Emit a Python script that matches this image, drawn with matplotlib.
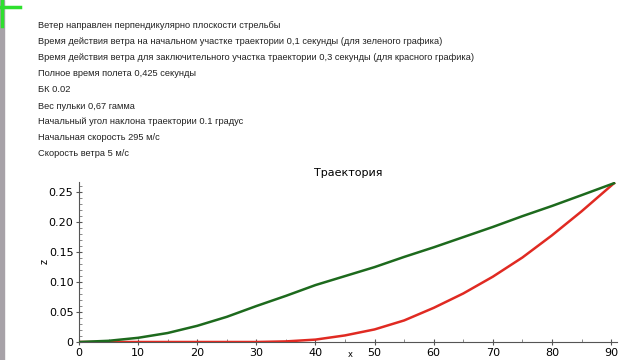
#!/usr/bin/env python3

import matplotlib
matplotlib.use('Agg')
import matplotlib.pyplot as plt
from matplotlib.ticker import MultipleLocator
from matplotlib.patches import Rectangle

# notes printed above the plot
notes = [
    'Ветер направлен перпендикулярно плоскости стрельбы',
    'Время действия ветра на начальном участке траектории 0,1 секунды (для зеленого графика)',
    'Время действия ветра для заключительного участка траектории 0,3 секунды (для красного графика)',
    'Полное время полета 0,425 секунды',
    'БК 0.02',
    'Вес пульки 0,67 гамма',
    'Начальный угол наклона траектории 0.1 градус',
    'Начальная скорость 295 м/с',
    'Скорость ветра 5 м/с',
]

x = [0, 5, 10, 15, 20, 25, 30, 35, 40, 45, 50, 55, 60, 65, 70, 75, 80, 85, 90.5]
z_green = [0, 0.002, 0.007, 0.015, 0.027, 0.042, 0.060, 0.077, 0.095, 0.110,
           0.125, 0.142, 0.158, 0.175, 0.192, 0.210, 0.227, 0.245, 0.265]
z_red = [0, 0, 0, 0, 0, 0, 0, 0.001, 0.004, 0.011,
         0.021, 0.036, 0.057, 0.081, 0.109, 0.141, 0.178, 0.218, 0.265]

fig = plt.figure(figsize=(6.4, 3.6), dpi=100)
fig.patch.set_facecolor('white')

# window decoration on the left edge
fig.patches.append(Rectangle((0, 0), 4 / 640, 1, transform=fig.transFigure,
                             color='#a7a2a8', zorder=0))
fig.add_artist(plt.Line2D([2 / 640, 2 / 640], [1, 1 - 26 / 360],
                          transform=fig.transFigure, color='#2ee02e', lw=2.5))
fig.add_artist(plt.Line2D([0, 20 / 640], [1 - 7 / 360, 1 - 7 / 360],
                          transform=fig.transFigure, color='#2ee02e', lw=2.5))

for i, line in enumerate(notes):
    fig.text(38 / 640, 1 - (26 + 16 * i) / 360, line, fontsize=6.65,
             family='Liberation Sans', color='#222222', va='center')

ax = fig.add_axes([79 / 640, 18 / 360, 538 / 640, 160 / 360])
ax.plot(x, z_red, color='#e02a22', lw=1.8, zorder=3)
ax.plot(x, z_green, color='#1d6a1d', lw=1.8, zorder=4)

ax.set_xlim(0, 91)
ax.set_ylim(0, 0.267)
ax.set_xticks(range(0, 91, 10))
ax.set_xticklabels([str(v) for v in range(0, 91, 10)])
ax.set_yticks([0, 0.05, 0.10, 0.15, 0.20, 0.25])
ax.set_yticklabels(['0', '0.05', '0.10', '0.15', '0.20', '0.25'])
ax.xaxis.set_minor_locator(MultipleLocator(5))
ax.yaxis.set_minor_locator(MultipleLocator(0.01))

for s in ['top', 'right']:
    ax.spines[s].set_visible(False)
for s in ['left', 'bottom']:
    ax.spines[s].set_color('#555555')
    ax.spines[s].set_linewidth(0.8)
ax.tick_params(which='major', direction='inout', length=4, width=0.8,
               color='#555555', labelsize=8, pad=2)
ax.tick_params(which='minor', direction='in', length=2, width=0.6, color='#777777')

ax.set_title('Траектория', fontsize=8, pad=4)
fig.text(45 / 640, 1 - 262 / 360, 'z', rotation=90, fontsize=7,
         ha='center', va='center')
fig.text(350 / 640, 1 / 360, 'x', fontsize=6, ha='center', va='bottom')

fig.savefig('out.png', dpi=100)
